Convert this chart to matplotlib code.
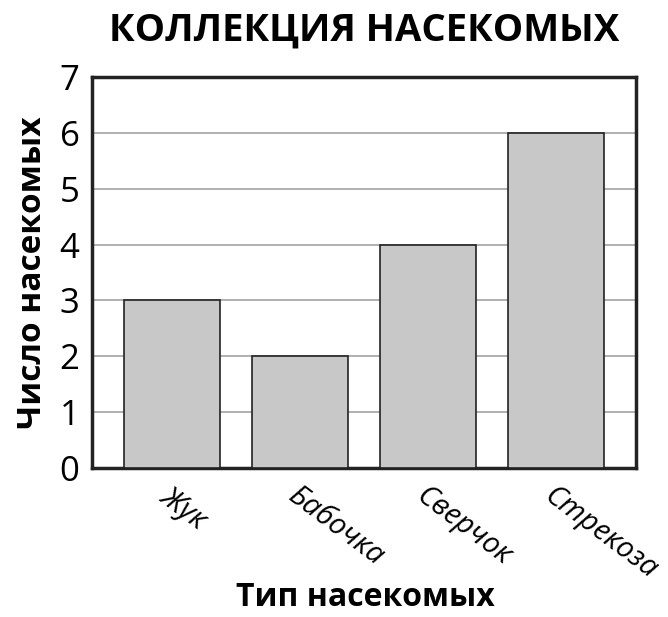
import matplotlib
matplotlib.use("Agg")
import matplotlib.pyplot as plt

insects = ["Жук", "Бабочка", "Сверчок", "Стрекоза"]
counts = [3, 2, 4, 6]
yticks = [0, 1, 2, 3, 4, 5, 6, 7]

plt.rcParams['font.family'] = ['Open Sans', 'DejaVu Sans']

fig = plt.figure(figsize=(6.68, 6.17), dpi=100)
ax = fig.add_axes([92/668, 1 - 468/617, 544/668, 391/617])

ax.bar(range(len(insects)), counts, width=0.75, color="#c8c8c8",
       edgecolor="#222222", linewidth=1.2, zorder=3)

ax.set_xlim(-0.625, 3.625)
ax.set_ylim(0, 7)
ax.set_yticks(yticks)
ax.set_yticklabels([str(v) for v in yticks], fontsize=25)
ax.yaxis.grid(True, color="#aaaaaa", linewidth=1.3, zorder=0)
ax.set_axisbelow(True)
ax.tick_params(length=0, pad=9)

ax.set_xticks(range(len(insects)))
ax.set_xticklabels(insects, fontsize=21, style="italic", rotation=-37,
                   ha="left", rotation_mode="anchor")
ax.tick_params(axis="x", pad=10)

for s in ax.spines.values():
    s.set_linewidth(2.5)
    s.set_color("#222222")

ax.set_ylabel("Число насекомых", fontsize=24, fontweight="bold", labelpad=8)
fig.text(365/668, 1 - 598/617, "Тип насекомых", fontsize=23, fontweight="bold",
         ha="center", va="center")
fig.text(0.545, 0.950, "КОЛЛЕКЦИЯ НАСЕКОМЫХ", fontsize=27.5, fontweight="bold",
         ha="center", va="center")

fig.savefig("out.png", dpi=100)
